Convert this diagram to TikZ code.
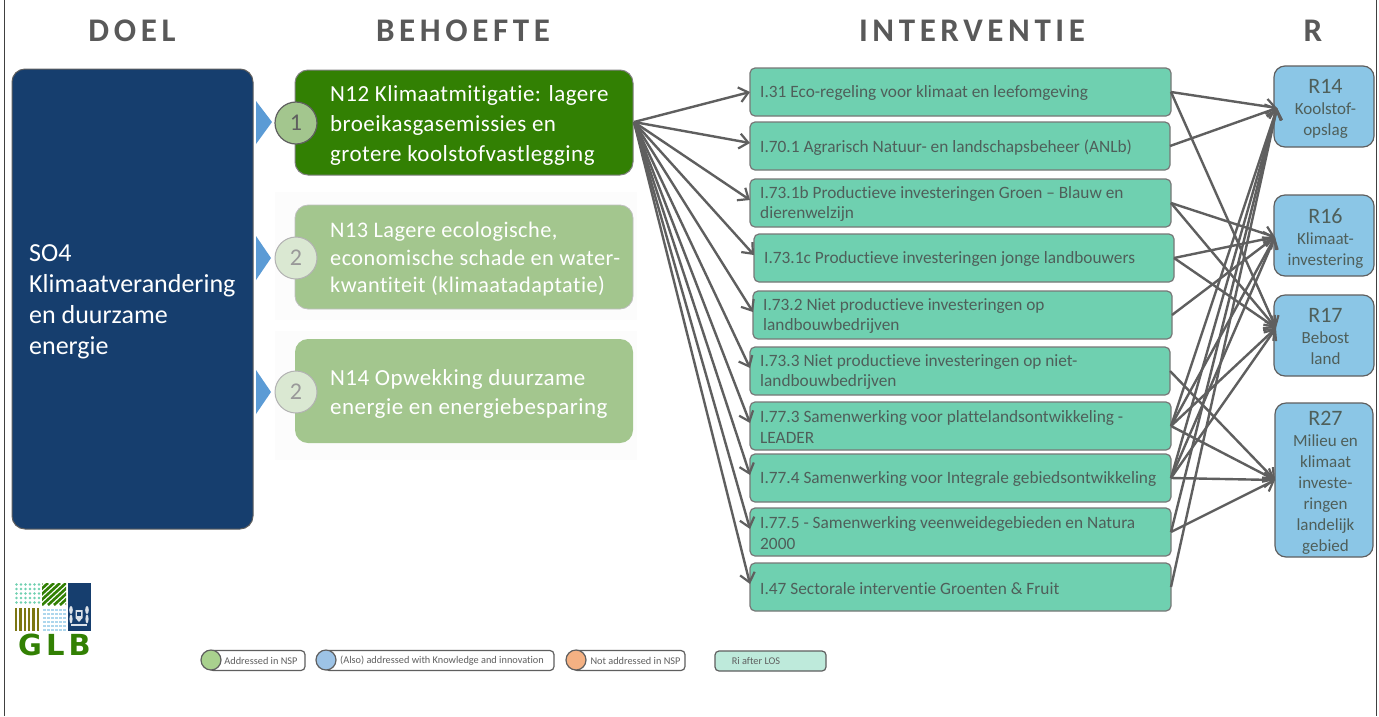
\documentclass[tikz,border=0pt]{standalone}
\usepackage{fontspec}
\setmainfont{Carlito}[Ligatures=NoCommon]
\newfontfamily\logofont{DejaVu Sans}
\usetikzlibrary{arrows.meta,shapes.geometric}
\definecolor{navy}{HTML}{163E6E}
\definecolor{dgreen}{HTML}{328003}
\definecolor{lgreen}{HTML}{A3C68E}
\definecolor{teal}{HTML}{6FD0B0}
\definecolor{sky}{HTML}{8BC6E6}
\definecolor{edge}{HTML}{5F5F5F}
\definecolor{head}{HTML}{595959}
\definecolor{tri}{HTML}{5B9BD5}
\definecolor{txt}{HTML}{4F5F5A}
\definecolor{dotg}{HTML}{A9D18E}
\definecolor{dotb}{HTML}{9DC3E6}
\definecolor{doto}{HTML}{F4B183}
\tikzset{
 x=1pt,y=-1pt,
 box/.style={rectangle,rounded corners=8pt,anchor=north west,inner sep=0pt,outer sep=0pt},
 headt/.style={font=\fontsize{33}{33}\selectfont\bfseries\addfontfeature{LetterSpace=14},text=head,anchor=center},
 need/.style={box,minimum width=338pt,align=left,text=white},
 needt/.style={anchor=west,align=left,inner sep=0pt,text=white},
 inter/.style={box,draw=edge!85,line width=1.2pt,fill=teal,rounded corners=5pt},
 res/.style={box,draw=edge,line width=1.2pt,fill=sky,rounded corners=11pt},
 link/.style={draw=edge,line width=2.4pt,-{Straight Barb[length=9pt,width=15pt,line width=2.2pt]}},
 badge/.style={circle,minimum size=42pt,inner sep=0pt,font=\fontsize{24}{24}\selectfont,text=edge},
 lcap/.style={box,draw=edge,line width=1.2pt,fill=white,minimum height=20pt,rounded corners=4pt,font=\fontsize{10.3}{10}\selectfont,text=edge,anchor=west,align=left},
 ldot/.style={circle,draw=edge,line width=1.2pt,minimum size=20pt,inner sep=0pt}
}
\begin{document}
\begin{tikzpicture}
\useasboundingbox (0,0) rectangle (1379,716);
\fill[white] (0,0) rectangle (1379,716);
\draw[draw=black!75,line width=1.6pt] (4.5,0) -- (4.5,716);
\draw[draw=black!75,line width=1.6pt] (1376.5,0) -- (1376.5,716);
% headings
\node[headt] (hd) at (132,31) {DOEL};
\node[headt] (hb) at (463,31) {BEHOEFTE};
\node[headt] (hi) at (972,31) {INTERVENTIE};
\node[headt] (hr) at (1313,31) {R};
% goal
\node[box,draw=edge,line width=1pt,fill=navy,minimum width=241pt,minimum height=460pt,rounded corners=13pt] (so) at (12,69) {};
\node[anchor=west,text=white,align=left,inner sep=0pt,font=\fontsize{26}{31}\selectfont] (sot) at (29,302) {SO4\\Klimaatverandering\\en duurzame\\energie};
% faint backdrops
\fill[black!1.2] (275,192) rectangle (637,320);
\fill[black!1.2] (275,331) rectangle (637,460);
% needs
\node[need,draw=black!50,line width=1pt,fill=dgreen,minimum height=105pt,rounded corners=13pt] (n12) at (295,70) {};
\node[needt,font=\fontsize{23}{30}\selectfont\addfontfeature{LetterSpace=2}] (n12t) at (330,125) {N12 Klimaatmitigatie: lagere\\broeikasgasemissies en\\grotere koolstofvastlegging};
\node[need,draw=black!25,line width=.8pt,fill=lgreen,minimum height=104pt,rounded corners=13pt] (n13) at (295,205) {};
\node[needt,font=\fontsize{22.3}{27.5}\selectfont\addfontfeature{LetterSpace=2}] (n13t) at (330,259.5) {N13 Lagere ecologische,\\economische schade en water-\\kwantiteit (klimaatadaptatie)};
\node[need,fill=lgreen,minimum height=104pt,rounded corners=13pt] (n14) at (295,339) {};
\node[needt,font=\fontsize{23}{29}\selectfont\addfontfeature{LetterSpace=2}] (n14t) at (330,393.5) {N14 Opwekking duurzame\\energie en energiebesparing};
% triangles and badges
\fill[tri] (256,101) -- (272,122) -- (256,144) -- cycle;
\fill[tri] (256,236) -- (271,258) -- (256,280) -- cycle;
\fill[tri] (256,370) -- (271,392) -- (256,414) -- cycle;
\node[badge,draw=edge,line width=1.2pt,fill=lgreen] (b1) at (296,123) {1};
\node[badge,draw=black!30,line width=1pt,fill=lgreen!40,text=black!40] (b2) at (296,258) {2};
\node[badge,draw=black!30,line width=1pt,fill=lgreen!40,text=black!40] (b3) at (296,392) {2};
% interventions
\newcommand{\ibox}[5]{\node[inter,minimum height=#4pt,minimum width=#5pt] (#1) at (#2) {};\node[anchor=west,inner sep=0pt,align=left,text=txt,font=\fontsize{17.3}{20.5}\selectfont] (#1t) at ([xshift=10pt,yshift=-1.2pt]#1.west) {#3};}
\ibox{i1}{750,68}{I.31 Eco-regeling voor klimaat en leefomgeving}{48}{421}
\ibox{i2}{750,122}{I.70.1 Agrarisch Natuur- en landschapsbeheer (ANLb)}{48}{420}
\ibox{i3}{750,179}{I.73.1b Productieve investeringen Groen – Blauw en\\dierenwelzijn}{48}{421}
\ibox{i4}{754,234}{I.73.1c Productieve investeringen jonge landbouwers}{48}{420}
\ibox{i5}{753,291}{I.73.2 Niet productieve investeringen op\\landbouwbedrijven}{48}{419}
\ibox{i6}{750,347}{I.73.3 Niet productieve investeringen op niet-\\landbouwbedrijven}{48}{420}
\ibox{i7}{750,402}{I.77.3 Samenwerking voor plattelandsontwikkeling -\\LEADER}{48}{421}
\ibox{i8}{750,454}{I.77.4 Samenwerking voor Integrale gebiedsontwikkeling}{48}{421}
\ibox{i9}{750,508}{I.77.5 - Samenwerking veenweidegebieden en Natura\\2000}{48}{421}
\ibox{i10}{750,563}{I.47 Sectorale interventie Groenten \& Fruit}{48}{421}
% results
\node[res,minimum width=100pt,minimum height=81pt] (r14) at (1274,66) {};
\node[res,minimum width=100pt,minimum height=81pt] (r16) at (1274,195) {};
\node[res,minimum width=100pt,minimum height=81pt] (r17) at (1274,295) {};
\node[res,minimum width=98pt,minimum height=154pt] (r27) at (1275,403) {};
\newcommand{\rtext}[4]{\node[anchor=north,align=center,inner sep=0pt,text=txt,font=\fontsize{17}{21}\selectfont] (#1) at (#2) {{\fontsize{22}{24}\selectfont #3}\\#4};}
\rtext{r14t}{1325.5,79}{R14}{Koolstof-\\opslag}
\rtext{r16t}{1325.5,208}{R16}{Klimaat-\\investering}
\rtext{r17t}{1325.5,308}{R17}{Bebost\\land}
\rtext{r27t}{1325.5,411}{R27}{Milieu en\\klimaat\\investe-\\ringen\\landelijk\\gebied}
% connector ends
\coordinate (s) at (634,122);
\coordinate (e14) at (1277,108);
\coordinate (e16) at (1275,237);
\coordinate (e17) at (1276,328);
\coordinate (e27) at (1275,480);
\draw[link] (s) -- (i1.west);
\foreach \n in {i2,i3,i4,i5,i6,i7,i8,i9,i10}{\draw[link] (s) -- ([yshift=3pt]\n.west);}
\foreach \a/\b in {i1/e14,i1/e17,i2/e14,i3/e16,i3/e17,i4/e16,i4/e17,i5/e16,i6/e27,i7/e14,i7/e16,i7/e17,i7/e27,i8/e14,i8/e16,i8/e17,i8/e27,i9/e14,i9/e27,i10/e14}{\draw[link] (\a.east) -- (\b);}
% logo
\foreach \yy in {584.5,589,...,604}{\foreach \xx in {16.5,21,...,40}{\fill[teal] (\xx,\yy) circle (1.4pt);}}
\begin{scope}
\clip (42,583) rectangle (66,605);
\foreach \k in {0,6,...,48}{\draw[dgreen,line width=2.6pt] (42+\k-24,605) -- (42+\k,583);}
\end{scope}
\fill[navy] (68,583) rectangle (91,631);
\foreach \xx in {15,19.3,...,38}{\fill[olive!85!black] (\xx,608) rectangle (\xx+2.4,631);}
\foreach \yy in {609,613,...,629}{\foreach \xx in {43,47,...,63}{\fill[sky!70] (\xx,\yy) rectangle (\xx+3,\yy+2);}}
% crest in the logo
\fill[white!85!navy] (75.5,610) -- (82.5,610) -- (82.5,618) -- (79,622) -- (75.5,618) -- cycle;
\fill[white!85!navy] (71,610) ellipse (1.8pt and 4pt);
\fill[white!85!navy] (87,610) ellipse (1.8pt and 4pt);
\fill[white!85!navy] (71,619) ellipse (1.6pt and 4.5pt);
\fill[white!85!navy] (87,619) ellipse (1.6pt and 4.5pt);
\draw[white!85!navy,line width=1.3pt] (71,625) -- (87,625);
\fill[navy] (77,612) rectangle (81,616);
\node[inner sep=0pt,text=dgreen,font=\logofont\fontsize{29}{29}\selectfont\bfseries\addfontfeature{LetterSpace=14}] (glb) at (54.5,645) {GLB};
% legend
\node[lcap,minimum width=96pt] (l1) at (209,660.5) {\hspace{8pt}Addressed in NSP};
\node[ldot,fill=dotg] (d1) at (211,660) {};
\node[lcap,minimum width=229pt] (l2) at (325,660.5) {\hspace{5pt}(Also) addressed with Knowledge and innovation};
\node[ldot,fill=dotb] (d2) at (326,660) {};
\node[lcap,minimum width=112pt] (l3) at (573,660.5) {\hspace{13pt}Not addressed in NSP};
\node[ldot,fill=doto] (d3) at (576,660) {};
\node[lcap,fill=teal!45,minimum width=111pt] (l4) at (715,661) {\hspace{-29pt}Ri after LOS};
\end{tikzpicture}
\end{document}
